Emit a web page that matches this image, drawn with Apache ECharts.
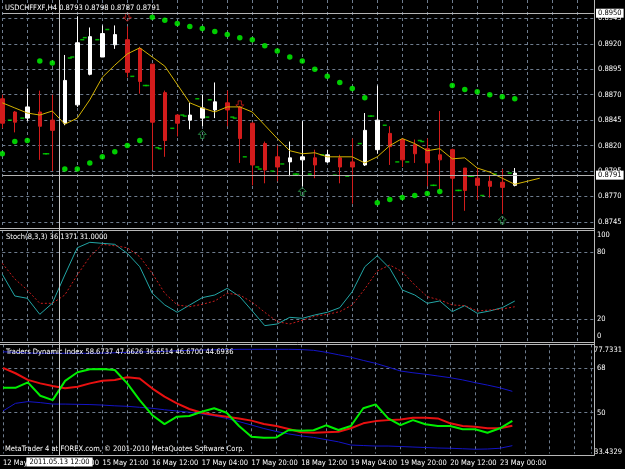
<!DOCTYPE html>
<html>
<head>
<meta charset="utf-8">
<script src="https://cdn.jsdelivr.net/npm/echarts@6/dist/echarts.min.js"></script>
<style>
html, body { margin: 0; padding: 0; background: #000; }
#chart { width: 625px; height: 469px; }
</style>
</head>
<body>
<div id="chart"></div>
<script>
// USDCHFFXF H4 bars
const times = ['12 May 16:00', '12 May 20:00', '13 May 00:00', '13 May 04:00', '13 May 08:00', '13 May 12:00',
  '13 May 16:00', '13 May 20:00', '15 May 21:00', '16 May 00:00', '16 May 04:00', '16 May 08:00', '16 May 12:00',
  '16 May 16:00', '16 May 20:00', '17 May 00:00', '17 May 04:00', '17 May 08:00', '17 May 12:00', '17 May 16:00',
  '17 May 20:00', '18 May 00:00', '18 May 04:00', '18 May 08:00', '18 May 12:00', '18 May 16:00', '18 May 20:00',
  '19 May 00:00', '19 May 04:00', '19 May 08:00', '19 May 12:00', '19 May 16:00', '19 May 20:00', '20 May 00:00',
  '20 May 04:00', '20 May 08:00', '20 May 12:00', '20 May 16:00', '20 May 20:00', '22 May 21:00', '23 May 00:00',
  '23 May 04:00'];

const open = [0.8866, 0.8853, 0.8847, 0.8853, 0.8845, 0.8842, 0.8860, 0.8890, 0.8907, 0.8919, 0.8924, 0.8915, 0.8900,
  0.8872, 0.8850, 0.8845, 0.8847, 0.8855, 0.8862, 0.8858, 0.8842, 0.8822, 0.8809, 0.8804, 0.8806, 0.8808, 0.8804,
  0.8808, 0.8804, 0.8801, 0.8816, 0.8832, 0.8826, 0.8821, 0.8817, 0.8811, 0.8816, 0.8798, 0.8788, 0.8785, 0.8784, 0.8781];
const close = [0.8842, 0.8843, 0.8858, 0.8839, 0.8835, 0.8884, 0.8921, 0.8927, 0.8930, 0.8929, 0.8892, 0.8883, 0.8843,
  0.8825, 0.8842, 0.8850, 0.8857, 0.8863, 0.8855, 0.8827, 0.8801, 0.8796, 0.8799, 0.8808, 0.8809, 0.8801, 0.8811,
  0.8799, 0.8799, 0.8835, 0.8845, 0.8819, 0.8806, 0.8812, 0.8803, 0.8806, 0.8788, 0.8776, 0.8781, 0.8780, 0.8779, 0.8793];
const low = [0.8837, 0.8833, 0.8844, 0.8806, 0.8795, 0.8840, 0.8858, 0.8889, 0.8907, 0.8915, 0.8887, 0.8871, 0.8796,
  0.8809, 0.8829, 0.8836, 0.8839, 0.8847, 0.8839, 0.8803, 0.8781, 0.8783, 0.8785, 0.8790, 0.8780, 0.8788, 0.8803,
  0.8783, 0.8763, 0.8800, 0.8812, 0.8801, 0.8799, 0.8803, 0.8780, 0.8776, 0.8746, 0.8756, 0.8767, 0.8769, 0.8753, 0.8780];
const high = [0.8870, 0.8854, 0.8876, 0.8874, 0.8870, 0.8909, 0.8947, 0.8936, 0.8938, 0.8938, 0.8937, 0.8917, 0.8900,
  0.8874, 0.8851, 0.8862, 0.8870, 0.8882, 0.8874, 0.8859, 0.8843, 0.8824, 0.8820, 0.8824, 0.8844, 0.8816, 0.8816,
  0.8811, 0.8827, 0.8852, 0.8879, 0.8839, 0.8827, 0.8826, 0.8827, 0.8854, 0.8817, 0.8798, 0.8798, 0.8791, 0.8797, 0.8798];

// moving average, shifted 2 bars forward
const ma = [0.8862, 0.8857, 0.8852, 0.8850, 0.8854, 0.8841, 0.8847, 0.8865, 0.8887, 0.8899, 0.8910, 0.8916, 0.8907,
  0.8898, 0.8880, 0.8862, 0.8857, 0.8853, 0.8858, 0.8858, 0.8853, 0.8840, 0.8827, 0.8815, 0.8812, 0.8813, 0.8809,
  0.8809, 0.8809, 0.8803, 0.8809, 0.8820, 0.8827, 0.8822, 0.8815, 0.8817, 0.8807, 0.8808, 0.8798, 0.8794, 0.8788,
  0.8782, 0.8785, 0.8788];

// parabolic SAR
const sar = [0.8812, 0.8824, 0.8825, 0.8903, 0.8901, 0.8797, 0.8797, 0.8803, 0.8809, 0.8814, 0.8820, 0.8825, 0.8946,
  0.8943, 0.8940, 0.8937, 0.8935, 0.8932, 0.8929, 0.8926, 0.8924, 0.8918, 0.8913, 0.8907, 0.8903, 0.8895, 0.8888,
  0.8882, 0.8876, 0.8867, 0.8764, 0.8767, 0.8769, 0.8771, 0.8773, 0.8775, 0.8879, 0.8875, 0.8873, 0.8870, 0.8868, 0.8866];

// small green level dashes left / right of a bar
const dashLeft = [null, 0.8845, 0.8847, null, 0.8812, null, 0.8907, 0.8926, 0.8924, null, null, null, 0.8879, 0.8817,
  0.8837, 0.8849, 0.8866, 0.8865, null, 0.8847, null, 0.8797, 0.8795, null, 0.8792, 0.8792, 0.8811, 0.8791, 0.8790,
  0.8822, 0.8849, 0.8840, 0.8804, null, 0.8824, 0.8781, null, 0.8776, 0.8790, null, null, 0.8793];
const dashRight = [null, null, null, 0.8812, null, 0.8906, 0.8924, null, 0.8934, null, 0.8888, 0.8879, 0.8818, null,
  0.8850, null, 0.8848, null, 0.8848, 0.8809, 0.8799, null, 0.8802, 0.8792, null, null, null, null, null, 0.8849,
  null, null, 0.8804, 0.8825, 0.8781, null, 0.8776, 0.8790, 0.8771, 0.8792, null, null];

// fractal arrows
const upArrowBars = [16, 24, 40];
const upArrowPrices = [0.8831, 0.8775, 0.8747];
const downArrowBars = [10, 19];
const downArrowPrices = [0.8946, 0.8860];

// Stoch(8,3,3)
const stochMain = [60.2, 40.7, 38.6, 24.2, 34.1, 59.6, 84.1, 89.0, 88.1, 87.2, 79.1, 67.0, 43.1, 32.6, 26.0, 32.6,
  39.2, 41.6, 47.6, 40.1, 27.2, 14.0, 15.5, 21.5, 20.6, 23.6, 26.0, 30.2, 44.6, 67.0, 76.9, 65.6, 46.1, 41.6, 34.1,
  36.2, 26.6, 32.0, 25.1, 27.2, 30.2, 36.14];
const stochSignal = [70.1, 56.0, 46.1, 34.1, 34.1, 41.6, 59.6, 76.0, 87.2, 85.9, 84.1, 76.0, 61.1, 43.1, 32.6, 31.1,
  33.2, 36.2, 43.1, 41.6, 35.0, 26.0, 17.6, 15.5, 18.8, 22.5, 24.2, 26.6, 32.6, 47.0, 63.2, 68.6, 62.5, 50.6, 40.1,
  37.1, 32.6, 32.0, 27.2, 28.1, 29.0, 31.0];

// Traders Dynamic Index
const tdiUpper = [74.7, 74.5, 74.2, 74.1, 74.1, 74.1, 74.1, 74.1, 74.2, 74.3, 74.5, 74.6, 74.7, 74.9, 75.1, 75.3,
  75.4, 75.5, 75.6, 75.7, 75.7, 75.7, 75.7, 75.7, 75.6, 75.3, 74.5, 73.5, 72.5, 71.2, 70.0, 68.5, 66.9, 66.2, 65.6,
  64.9, 64.2, 63.3, 62.2, 61.2, 60.1, 58.67];
const tdiLower = [50.7, 53.8, 54.5, 54.1, 53.5, 53.5, 53.4, 53.3, 53.1, 52.8, 52.6, 52.2, 51.8, 51.2, 50.7, 50.2,
  49.5, 48.7, 47.7, 46.4, 45.0, 43.6, 42.4, 41.4, 40.6, 40.0, 39.1, 38.2, 36.9, 36.7, 36.5, 36.5, 36.3, 36.1, 35.9,
  35.7, 35.6, 35.4, 35.2, 35.3, 35.6, 36.65];
const tdiPrice = [60.1, 60.1, 62.3, 56.9, 55.1, 62.9, 66.4, 67.6, 67.7, 67.3, 61.9, 55.1, 49.1, 45.4, 48.4, 48.7,
  50.4, 51.8, 50.0, 44.6, 40.3, 39.9, 40.0, 43.0, 42.7, 42.9, 44.9, 43.0, 44.6, 51.8, 53.4, 47.7, 45.0, 47.0, 45.3,
  44.6, 44.6, 43.3, 43.3, 41.9, 43.7, 46.67];
const tdiSignal = [68.2, 66.0, 63.3, 61.9, 60.8, 59.9, 60.5, 61.9, 63.0, 63.3, 64.4, 63.9, 59.9, 56.5, 53.8, 51.5,
  50.0, 49.1, 48.4, 47.7, 46.8, 45.4, 44.6, 43.4, 42.1, 41.9, 42.1, 42.3, 43.7, 45.7, 46.6, 47.0, 47.3, 48.0, 48.0,
  47.7, 45.7, 44.6, 44.3, 43.7, 43.7, 44.69];

const hLines = [0.8950, 0.8791];          // horizontal line + bid line
const tdiMin = 33.4329, tdiMax = 77.7331;
const cursorIdx = 4.56;
const cursorLabel = '2011.05.13 12:00';

const FONT = "'DejaVu Sans Condensed', 'Liberation Sans', sans-serif";
const FS = 7.5;
const GRIDC = '#6e7c8e';
const X_MIN = 0, X_MAX = 47.34;
const L = 2.3, W = 591.7;

const pairs = arr => arr.map((v, i) => [i, v]).filter(p => p[1] != null);

const chart = echarts.init(document.getElementById('chart'));

const splitX = { show: true, lineStyle: { color: GRIDC, type: [3, 3], width: 1 } };
const splitY = { show: true, lineStyle: { color: GRIDC, type: [3, 3], width: 1 } };
const lbl = { color: '#ffffff', fontSize: FS, fontFamily: FONT };
const richLbl = pad => ({ padding: pad, color: '#fff', fontSize: FS, fontFamily: FONT });

function xAx(gridIndex, split, labels) {
  return {
    type: 'value', gridIndex, min: X_MIN, max: X_MAX, interval: 2,
    axisLine: { show: false }, axisTick: { show: false },
    splitLine: split ? splitX : { show: false },
    axisLabel: labels ? Object.assign({
      align: 'left', margin: 5,
      formatter: v => {
        const i = Math.round(v);
        return (Math.abs(v - i) < 1e-6 && i % 4 === 0 && times[i]) ? times[i] : '';
      }
    }, lbl) : { show: false }
  };
}

const option = {
  backgroundColor: '#000000',
  animation: false,
  grid: [
    { left: L, width: W, top: 0, height: 228 },
    { left: L, width: W, top: 18.3, height: 203.7 },
    { left: L, width: W, top: 230.1, height: 111.1 },
    { left: L, width: W, top: 252.3, height: 66.7 },
    { left: L, width: W, top: 344.3, height: 109.3 },
    { left: L, width: W, top: 368.3, height: 44.4 }
  ],
  xAxis: [
    xAx(0, true, false), xAx(1, false, false), xAx(2, true, false),
    xAx(3, false, false), xAx(4, true, true), xAx(5, false, false)
  ],
  yAxis: [
    { type: 'value', gridIndex: 0, min: 0.873911, max: 0.896297, show: false },
    { type: 'value', gridIndex: 1, position: 'right', min: 0.8745, max: 0.8945, interval: 0.0025,
      axisLine: { show: false }, axisTick: { show: false }, splitLine: splitY,
      axisLabel: Object.assign({ margin: 4, formatter: v => v.toFixed(4) }, lbl) },
    { type: 'value', gridIndex: 2, position: 'right', min: 0, max: 100, interval: 100,
      axisLine: { show: false }, axisTick: { show: false }, splitLine: { show: false },
      axisLabel: Object.assign({ margin: 3, showMinLabel: true, showMaxLabel: true,
        formatter: v => v > 50 ? '{t|100}' : '{b|0}',
        rich: { t: richLbl([10, 0, 0, 0]), b: richLbl([0, 0, 10, 0]) } }, lbl) },
    { type: 'value', gridIndex: 3, position: 'right', min: 20, max: 80, interval: 60,
      axisLine: { show: false }, axisTick: { show: false }, splitLine: splitY,
      axisLabel: Object.assign({ margin: 3 }, lbl) },
    { type: 'value', gridIndex: 4, position: 'right', min: tdiMin, max: tdiMax, interval: tdiMax - tdiMin,
      axisLine: { show: false }, axisTick: { show: false }, splitLine: { show: false },
      axisLabel: Object.assign({ margin: 3, showMinLabel: true, showMaxLabel: true,
        formatter: v => v > 55 ? '{t|' + tdiMax.toFixed(4) + '}' : '{b|' + tdiMin.toFixed(4) + '}',
        rich: { t: richLbl([11, 0, 0, 0]), b: richLbl([0, 0, 4, 0]) } }, lbl) },
    { type: 'value', gridIndex: 5, position: 'right', min: 50, max: 68, interval: 18,
      axisLine: { show: false }, axisTick: { show: false }, splitLine: splitY,
      axisLabel: Object.assign({ margin: 3 }, lbl) }
  ],
  series: [
    {
      type: 'candlestick', xAxisIndex: 0, yAxisIndex: 0, clip: false, barWidth: 4,
      encode: { x: 0, y: [1, 2, 3, 4] },
      data: open.map((o, i) => [i, o, close[i], low[i], high[i]]),
      itemStyle: { color: '#ffffff', color0: '#d21c1c', borderColor: '#ffffff', borderColor0: '#d21c1c', borderWidth: 1 }
    },
    { type: 'line', xAxisIndex: 0, yAxisIndex: 0, data: pairs(ma), symbol: 'none', clip: false,
      lineStyle: { color: '#d4b300', width: 1 },
      markLine: {
        silent: true, symbol: ['none', 'none'], precision: 4,
        lineStyle: { color: '#b4b4b4', type: 'solid', width: 1 },
        label: { show: true, position: 'end', distance: 2, formatter: p => Number(p.value).toFixed(4),
          color: '#000', backgroundColor: '#fff', padding: [1, 2, 0, 2], fontSize: FS, fontFamily: FONT },
        data: hLines.map(v => ({ yAxis: v }))
      } },
    { type: 'scatter', xAxisIndex: 0, yAxisIndex: 0, data: pairs(sar), symbol: 'circle', symbolSize: 5.5, clip: false,
      itemStyle: { color: '#00ff00' } },
    { type: 'scatter', xAxisIndex: 0, yAxisIndex: 0, data: pairs(dashLeft), symbol: 'rect', symbolSize: [4, 1.5],
      symbolOffset: [-5, 0], itemStyle: { color: '#00dd00' } },
    { type: 'scatter', xAxisIndex: 0, yAxisIndex: 0, data: pairs(dashRight), symbol: 'rect', symbolSize: [4, 1.5],
      symbolOffset: [5, 0], itemStyle: { color: '#00dd00' } },
    { type: 'scatter', xAxisIndex: 0, yAxisIndex: 0, clip: false,
      data: upArrowBars.map((b, k) => [b, upArrowPrices[k]]),
      symbol: 'path://M5,0 L10,5 L7,5 L7,10 L3,10 L3,5 L0,5 Z', symbolSize: [8, 8],
      itemStyle: { color: 'rgba(0,0,0,0)', borderColor: '#2a9a4a', borderWidth: 1 } },
    { type: 'scatter', xAxisIndex: 0, yAxisIndex: 0, clip: false,
      data: downArrowBars.map((b, k) => [b, downArrowPrices[k]]),
      symbol: 'path://M5,0 L10,5 L7,5 L7,10 L3,10 L3,5 L0,5 Z', symbolSize: [8, 8], symbolRotate: 180,
      itemStyle: { color: 'rgba(0,0,0,0)', borderColor: '#d21c1c', borderWidth: 1 } },

    { type: 'line', xAxisIndex: 2, yAxisIndex: 2, data: pairs(stochMain), symbol: 'none',
      lineStyle: { color: '#22a6a6', width: 1 } },
    { type: 'line', xAxisIndex: 2, yAxisIndex: 2, data: pairs(stochSignal), symbol: 'none',
      lineStyle: { color: '#c81c1c', width: 1, type: [2, 2] } },

    { type: 'line', xAxisIndex: 4, yAxisIndex: 4, data: pairs(tdiUpper), symbol: 'none',
      lineStyle: { color: '#1414c8', width: 1 } },
    { type: 'line', xAxisIndex: 4, yAxisIndex: 4, data: pairs(tdiLower), symbol: 'none',
      lineStyle: { color: '#1414c8', width: 1 } },
    { type: 'line', xAxisIndex: 4, yAxisIndex: 4, data: pairs(tdiSignal), symbol: 'none',
      lineStyle: { color: '#e81010', width: 2 } },
    { type: 'line', xAxisIndex: 4, yAxisIndex: 4, data: pairs(tdiPrice), symbol: 'none',
      lineStyle: { color: '#00ee00', width: 2 } }
  ]
};
chart.setOption(option);

// panel frames, titles and the vertical line object
const cx = Math.round(chart.convertToPixel({ xAxisIndex: 0 }, cursorIdx)) + 0.5;
const frame = '#b8b8b8';
const txt = (x, y, s) => ({ type: 'text', x, y, z: 50,
  style: { text: s, fill: '#ffffff', font: FS + 'px ' + FONT, verticalAlign: 'middle' } });
const hline = (y) => ({ type: 'line', z: 40, shape: { x1: 0, y1: y, x2: 594.5, y2: y }, style: { stroke: frame, lineWidth: 1 } });
chart.setOption({
  graphic: [
    hline(228.5), hline(230.5), hline(342.5), hline(344.5), hline(455.5),
    { type: 'line', z: 40, shape: { x1: 594.5, y1: 0, x2: 594.5, y2: 455.5 }, style: { stroke: frame, lineWidth: 1 } },
    { type: 'line', z: 41, shape: { x1: cx, y1: 0, x2: cx, y2: 455 }, style: { stroke: '#c8c8c8', lineWidth: 1 } },
    txt(5, 8, 'USDCHFFXF,H4 0.8793 0.8798 0.8787 0.8791'),
    txt(6, 237.5, 'Stoch(8,3,3) 36.1371 31.0000'),
    txt(6, 352, 'Traders Dynamic Index 58.6737 47.6626 36.6514 46.6700 44.6936'),
    txt(5, 449.5, 'MetaTrader 4 at FOREX.com, \u00a9 2001-2010 MetaQuotes Software Corp.'),
    { type: 'text', x: cx, y: 462, z: 60,
      style: { text: cursorLabel, fill: '#000', font: FS + 'px ' + FONT, align: 'center', verticalAlign: 'middle',
        backgroundColor: '#ffffff', padding: [1, 3, 0, 3] } }
  ]
});
</script>
</body>
</html>
